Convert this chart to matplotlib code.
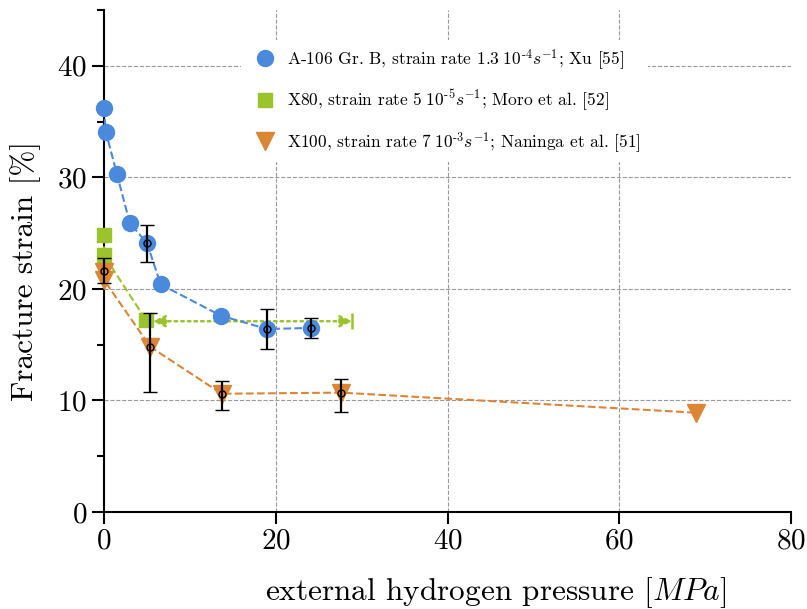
import matplotlib
matplotlib.use('Agg')
import matplotlib.pyplot as plt
from matplotlib.ticker import MultipleLocator

plt.rcParams['font.family'] = ['cmr10']
plt.rcParams['mathtext.fontset'] = 'cm'
plt.rcParams['axes.formatter.use_mathtext'] = True

# A-106 Gr. B (Xu)
xu_p = [0.0, 0.2, 1.5, 3.0, 5.0, 6.6, 13.6, 19.0, 24.1]
xu_eps = [36.2, 34.1, 30.3, 25.9, 24.1, 20.4, 17.6, 16.4, 16.5]
xu_err_p = [5.0, 19.0, 24.1]
xu_err_eps = [24.1, 16.4, 16.5]
xu_err_lo = [1.7, 1.8, 0.9]
xu_err_hi = [1.6, 1.8, 0.9]

# X80 (Moro et al.)
moro_p = [0.0, 0.0, 4.9]
moro_eps = [24.8, 23.0, 17.2]
moro_range = [5.7, 28.9]
moro_range_eps = 17.1

# X100 (Naninga et al.)
nan_p = [0.0, 0.0, 5.4, 13.7, 27.6, 68.9]
nan_eps = [21.5, 20.8, 14.8, 10.6, 10.7, 8.9]
nan_err_p = [0.0, 5.4, 13.7, 27.6]
nan_err_eps = [21.6, 14.8, 10.6, 10.7]
nan_err_lo = [1.1, 4.0, 1.45, 1.7]
nan_err_hi = [1.2, 3.0, 1.15, 1.2]

blue = '#4a89dc'
green = '#9bc42c'
orange = '#dc8535'

fig = plt.figure(figsize=(8.07, 6.09), dpi=100)
ax = fig.add_axes([0.1289, 0.1593, 0.8513, 0.8243])

ax.plot(xu_p, xu_eps, '--', color=blue, lw=1.5, marker='o', ms=11.5,
        mec=blue, clip_on=False, zorder=4,
        label=r'A-106 Gr. B, strain rate 1.3$\;10^{\text{-}4}s^{-1}$; Xu [55]')
ax.plot(moro_p, moro_eps, '--', color=green, lw=1.5, marker='s', ms=10,
        clip_on=False, zorder=4,
        label=r'X80, strain rate 5$\;10^{\text{-}5}s^{-1}$; Moro et al. [52]')
ax.plot(nan_p, nan_eps, '--', color=orange, lw=1.5, marker='v', ms=13,
        clip_on=False, zorder=4,
        label=r'X100, strain rate 7$\;10^{\text{-}3}s^{-1}$; Naninga et al. [51]')

# pressure range of the X80 test
ax.annotate('', xy=(moro_range[0], moro_range_eps), xytext=(moro_range[1], moro_range_eps),
            arrowprops=dict(arrowstyle='<|-|>', color=green, lw=1.8, ls=':',
                            mutation_scale=18, shrinkA=0, shrinkB=0), zorder=3)
ax.plot([moro_range[1]], [moro_range_eps], marker='|', ms=12, mew=1.8,
        color=green, zorder=3)

ax.errorbar(xu_err_p, xu_err_eps, yerr=[xu_err_lo, xu_err_hi], fmt='o', ms=5,
            mfc='none', mec='black', mew=1, ecolor='black', elinewidth=1.6,
            capsize=5, capthick=1.6, clip_on=False, zorder=5)
ax.errorbar(nan_err_p, nan_err_eps, yerr=[nan_err_lo, nan_err_hi], fmt='o', ms=5,
            mfc='none', mec='black', mew=1, ecolor='black', elinewidth=1.6,
            capsize=5, capthick=1.6, clip_on=False, zorder=5)

ax.set_xlim(0, 80)
ax.set_ylim(0, 45)
ax.xaxis.set_major_locator(MultipleLocator(20))
ax.yaxis.set_major_locator(MultipleLocator(10))
ax.yaxis.set_minor_locator(MultipleLocator(5))

for x in [20, 40, 60]:
    ax.axvline(x, color='#999999', ls='--', lw=0.8, zorder=0)
for y in [10, 20, 30, 40]:
    ax.axhline(y, color='#999999', ls='--', lw=0.8, zorder=0)

ax.spines['top'].set_visible(False)
ax.spines['right'].set_visible(False)
ax.spines['left'].set_linewidth(1.5)
ax.spines['bottom'].set_linewidth(1.5)
ax.tick_params(which='major', direction='out', length=8.5, width=1.5, labelsize=21)
ax.tick_params(which='minor', direction='out', length=5, width=1.5)

ax.set_xlabel(r'external hydrogen pressure $[MPa]$', fontsize=22.5)
ax.set_ylabel('Fracture strain [%]', fontsize=22.5)
ax.xaxis.set_label_coords(0.57, -0.125)
ax.yaxis.set_label_coords(-0.092, 0.48)

leg = ax.legend(loc='upper left', bbox_to_anchor=(0.187, 0.958), fontsize=12.5,
                frameon=True, framealpha=1, edgecolor='none', facecolor='white',
                labelspacing=0.95, handletextpad=0.25, markerscale=1.0)
for h in leg.legend_handles:
    h.set_linestyle('')
leg.set_zorder(2)

fig.savefig('out.png', dpi=100)
